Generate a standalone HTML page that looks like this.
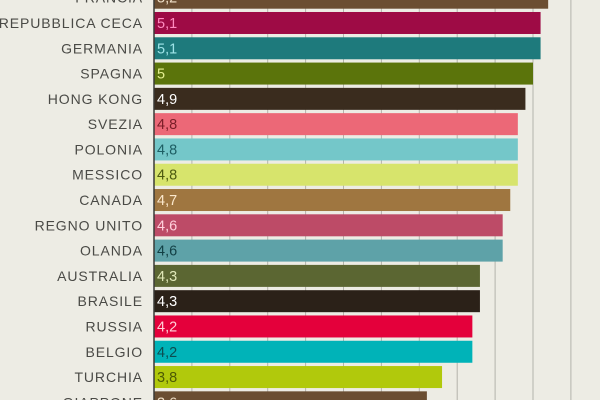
<!DOCTYPE html>
<html><head><meta charset="utf-8"><style>
html,body{margin:0;padding:0;background:#edece4;}
svg{display:block;font-family:"Liberation Sans",sans-serif;}
</style></head><body>
<svg id="chart" width="600" height="400" viewBox="0 0 600 400"></svg>
<script>
const categories=["FRANCIA","REPUBBLICA CECA","GERMANIA","SPAGNA","HONG KONG","SVEZIA","POLONIA","MESSICO","CANADA","REGNO UNITO","OLANDA","AUSTRALIA","BRASILE","RUSSIA","BELGIO","TURCHIA","GIAPPONE"];
const values=[5.2,5.1,5.1,5,4.9,4.8,4.8,4.8,4.7,4.6,4.6,4.3,4.3,4.2,4.2,3.8,3.6];
const valueLabels=["5,2","5,1","5,1","5","4,9","4,8","4,8","4,8","4,7","4,6","4,6","4,3","4,3","4,2","4,2","3,8","3,6"];
const barColors=["#6b4e32","#9e0b45","#1e7a7c","#5b740b","#3a2c1e","#ec6877","#74c7c9","#d7e46c","#9f7640","#bd4b67","#5ea2a8","#5b6632","#2b2118","#e4003b","#00b3b8","#b1c90c","#6b4e32"];
const labelColors=["#f0e0c8","#ff8cc0","#9fe4e8","#e4ef90","#ffffff","#7a1e28","#1d5e63","#4d5a10","#fbe8cc","#ffd0dc","#123f44","#e0e8b8","#ffffff","#ffd0d8","#0c4d50","#4d5a05","#f0e0c8"];
const gridTicks=[0.5,1,1.5,2,2.5,3,3.5,4,4.5,5,5.5,6];
const NS="http://www.w3.org/2000/svg";
const svg=document.getElementById("chart");
const x0=154,pxPerUnit=75.8,rowPitch=25.29,firstCenter=-2.3,barH=22;
const xs=v=>x0+v*pxPerUnit;
const yc=i=>firstCenter+i*rowPitch;
function mk(t,a){const e=document.createElementNS(NS,t);for(const k in a)e.setAttribute(k,a[k]);svg.appendChild(e);return e;}
gridTicks.forEach(t=>{
 const l=mk("line",{x1:xs(t),x2:xs(t),y1:0,y2:400,stroke:"#b4b3ab","stroke-width":1});
 
 
});
categories.forEach((c,i)=>{
 const y=yc(i);
 const r=mk("rect",{x:x0,y:y-barH/2,width:values[i]*pxPerUnit,height:barH,fill:barColors[i]});
 
 
 const t=mk("text",{x:143,y:y+5,"text-anchor":"end","font-size":"14","letter-spacing":"0.9",fill:"#4a4a46"});
 t.textContent=c;
 
 
 const v=mk("text",{x:157,y:y+5,"font-size":"14.5",fill:labelColors[i]});
 v.textContent=valueLabels[i];
 
 
});
const ax=mk("line",{x1:x0,x2:x0,y1:0,y2:400,stroke:"#3a3a36","stroke-width":1.5});


</script>
</body></html>
